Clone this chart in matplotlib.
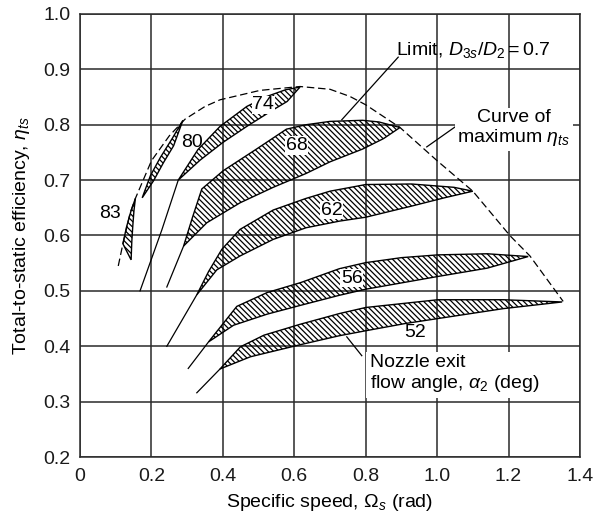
import matplotlib
matplotlib.use("Agg")
import matplotlib.pyplot as plt

plt.rcParams['font.family'] = ['Liberation Sans', 'DejaVu Sans']
plt.rcParams['mathtext.fontset'] = 'custom'
plt.rcParams['mathtext.rm'] = 'Liberation Sans'
plt.rcParams['mathtext.it'] = 'Liberation Sans:italic'
plt.rcParams['hatch.linewidth'] = 0.9

# band edges (specific speed, efficiency), both edges run from start tip to end tip
b83_x1 = [0.143, 0.120, 0.130, 0.143, 0.155]
b83_y1 = [0.556, 0.585, 0.615, 0.645, 0.667]
b83_x2 = [0.143, 0.145, 0.148, 0.151, 0.155]
b83_y2 = [0.556, 0.590, 0.620, 0.645, 0.667]

b80_x1 = [0.174, 0.197, 0.225, 0.258, 0.288]
b80_y1 = [0.668, 0.708, 0.741, 0.775, 0.808]
b80_x2 = [0.174, 0.206, 0.234, 0.262, 0.288]
b80_y2 = [0.668, 0.699, 0.732, 0.762, 0.808]

b74_x1 = [0.275, 0.330, 0.392, 0.467, 0.523, 0.575, 0.616]
b74_y1 = [0.700, 0.755, 0.797, 0.833, 0.851, 0.863, 0.868]
b74_x2 = [0.275, 0.336, 0.400, 0.467, 0.541, 0.580, 0.616]
b74_y2 = [0.700, 0.736, 0.768, 0.797, 0.827, 0.842, 0.868]

b68_x1 = [0.290, 0.315, 0.341, 0.401, 0.494, 0.578, 0.633, 0.700, 0.791, 0.837, 0.896]
b68_y1 = [0.581, 0.633, 0.684, 0.717, 0.756, 0.792, 0.800, 0.806, 0.808, 0.805, 0.795]
b68_x2 = [0.290, 0.355, 0.448, 0.541, 0.633, 0.700, 0.791, 0.850, 0.896]
b68_y2 = [0.581, 0.623, 0.659, 0.687, 0.712, 0.733, 0.756, 0.775, 0.795]

b62_x1 = [0.327, 0.360, 0.397, 0.448, 0.541, 0.633, 0.700, 0.800, 0.928, 1.047, 1.100]
b62_y1 = [0.493, 0.535, 0.575, 0.611, 0.646, 0.667, 0.680, 0.692, 0.693, 0.687, 0.680]
b62_x2 = [0.327, 0.383, 0.448, 0.541, 0.633, 0.727, 0.800, 0.928, 1.020, 1.100]
b62_y2 = [0.493, 0.538, 0.563, 0.593, 0.614, 0.626, 0.633, 0.653, 0.668, 0.680]

b56_x1 = [0.360, 0.439, 0.524, 0.618, 0.726, 0.800, 0.900, 1.002, 1.140, 1.255]
b56_y1 = [0.408, 0.472, 0.497, 0.515, 0.540, 0.551, 0.560, 0.565, 0.567, 0.562]
b56_x2 = [0.360, 0.430, 0.524, 0.618, 0.726, 0.800, 1.002, 1.140, 1.255]
b56_y2 = [0.408, 0.438, 0.458, 0.474, 0.492, 0.503, 0.526, 0.541, 0.562]

b52_x1 = [0.392, 0.449, 0.515, 0.618, 0.726, 0.800, 1.002, 1.186, 1.350]
b52_y1 = [0.359, 0.399, 0.420, 0.440, 0.459, 0.470, 0.484, 0.484, 0.480]
b52_x2 = [0.392, 0.477, 0.618, 0.726, 0.800, 0.910, 1.002, 1.186, 1.350]
b52_y2 = [0.359, 0.381, 0.403, 0.419, 0.428, 0.441, 0.450, 0.468, 0.480]

# thin lines running off the lower ends of the bands
tail_x = [[0.168, 0.229, 0.275], [0.243, 0.290], [0.243, 0.327], [0.303, 0.360], [0.327, 0.392]]
tail_y = [[0.500, 0.610, 0.700], [0.507, 0.581], [0.400, 0.493], [0.360, 0.408], [0.316, 0.359]]

# curve of maximum efficiency
max_x = [0.107, 0.120, 0.140, 0.155, 0.200, 0.250, 0.294, 0.350, 0.392, 0.504, 0.616,
         0.700, 0.756, 0.800, 0.896, 1.000, 1.100, 1.205, 1.260, 1.353]
max_y = [0.545, 0.585, 0.640, 0.667, 0.735, 0.780, 0.810, 0.833, 0.845, 0.862, 0.869,
         0.864, 0.851, 0.836, 0.795, 0.735, 0.680, 0.599, 0.563, 0.481]

bands = [
    ("83", b83_x1, b83_y1, b83_x2, b83_y2, (0.084, 0.640), False),
    ("80", b80_x1, b80_y1, b80_x2, b80_y2, (0.313, 0.768), False),
    ("74", b74_x1, b74_y1, b74_x2, b74_y2, (0.513, 0.836), True),
    ("68", b68_x1, b68_y1, b68_x2, b68_y2, (0.606, 0.762), True),
    ("62", b62_x1, b62_y1, b62_x2, b62_y2, (0.705, 0.646), True),
    ("56", b56_x1, b56_y1, b56_x2, b56_y2, (0.761, 0.523), True),
    ("52", b52_x1, b52_y1, b52_x2, b52_y2, (0.938, 0.424), False),
]

FS = 14

fig, ax = plt.subplots(figsize=(5.93, 5.17), dpi=100)
fig.subplots_adjust(left=0.135, right=0.978, bottom=0.116, top=0.973)

ax.set_xlim(0, 1.4)
ax.set_ylim(0.2, 1.0)
ax.set_xticks([0, 0.2, 0.4, 0.6, 0.8, 1.0, 1.2, 1.4])
ax.set_xticklabels(["0", "0.2", "0.4", "0.6", "0.8", "1.0", "1.2", "1.4"])
ax.set_yticks([0.2, 0.3, 0.4, 0.5, 0.6, 0.7, 0.8, 0.9, 1.0])
ax.grid(True, color="#2a2a2a", linewidth=1.1)
ax.set_axisbelow(True)
for s in ax.spines.values():
    s.set_color("#2a2a2a")
    s.set_linewidth(1.1)
ax.tick_params(length=0, labelsize=FS, colors="#1a1a1a")
ax.tick_params(axis="x", pad=8)
ax.tick_params(axis="y", pad=7)

for name, x1, y1, x2, y2, pos, boxed in bands:
    px = list(x1) + list(x2[::-1])
    py = list(y1) + list(y2[::-1])
    ax.fill(px, py, facecolor="none", edgecolor="black", hatch="\\\\\\\\\\\\", linewidth=1.0, zorder=3)
    kw = {}
    if boxed:
        kw["bbox"] = dict(facecolor="white", edgecolor="none", pad=0.5)
    ax.text(pos[0], pos[1], name, fontsize=FS, ha="center", va="center", zorder=5, **kw)

for tx, ty in zip(tail_x, tail_y):
    ax.plot(tx, ty, color="black", linewidth=0.9, zorder=3)

ax.plot(max_x, max_y, color="black", linewidth=0.9, dashes=(6, 3), zorder=3)

# annotations
ax.text(0.885, 0.935, r"Limit, $D_{3s}/D_2 = 0.7$", fontsize=FS, ha="left", va="center", zorder=5)
ax.plot([0.891, 0.733], [0.922, 0.809], color="black", linewidth=0.9, zorder=4)

ax.text(1.215, 0.793, "Curve of\nmaximum $\\eta_{ts}$", fontsize=FS, ha="center", va="center",
        linespacing=1.1, zorder=5, bbox=dict(facecolor="white", edgecolor="none", pad=2))
ax.plot([1.092, 0.971], [0.815, 0.760], color="black", linewidth=0.9, zorder=4)

ax.text(0.812, 0.350, "Nozzle exit\nflow angle, $\\alpha_2$ (deg)", fontsize=FS, ha="left", va="center",
        linespacing=1.1, zorder=5, bbox=dict(facecolor="white", edgecolor="none", pad=3))
ax.plot([0.789, 0.747], [0.383, 0.417], color="black", linewidth=0.9, zorder=4)

ax.set_xlabel(r"Specific speed, $\Omega_s$ (rad)", fontsize=FS, labelpad=5)
ax.set_ylabel(r"Total-to-static efficiency, $\eta_{ts}$", fontsize=FS, labelpad=8)

fig.savefig("out.png", dpi=100)
